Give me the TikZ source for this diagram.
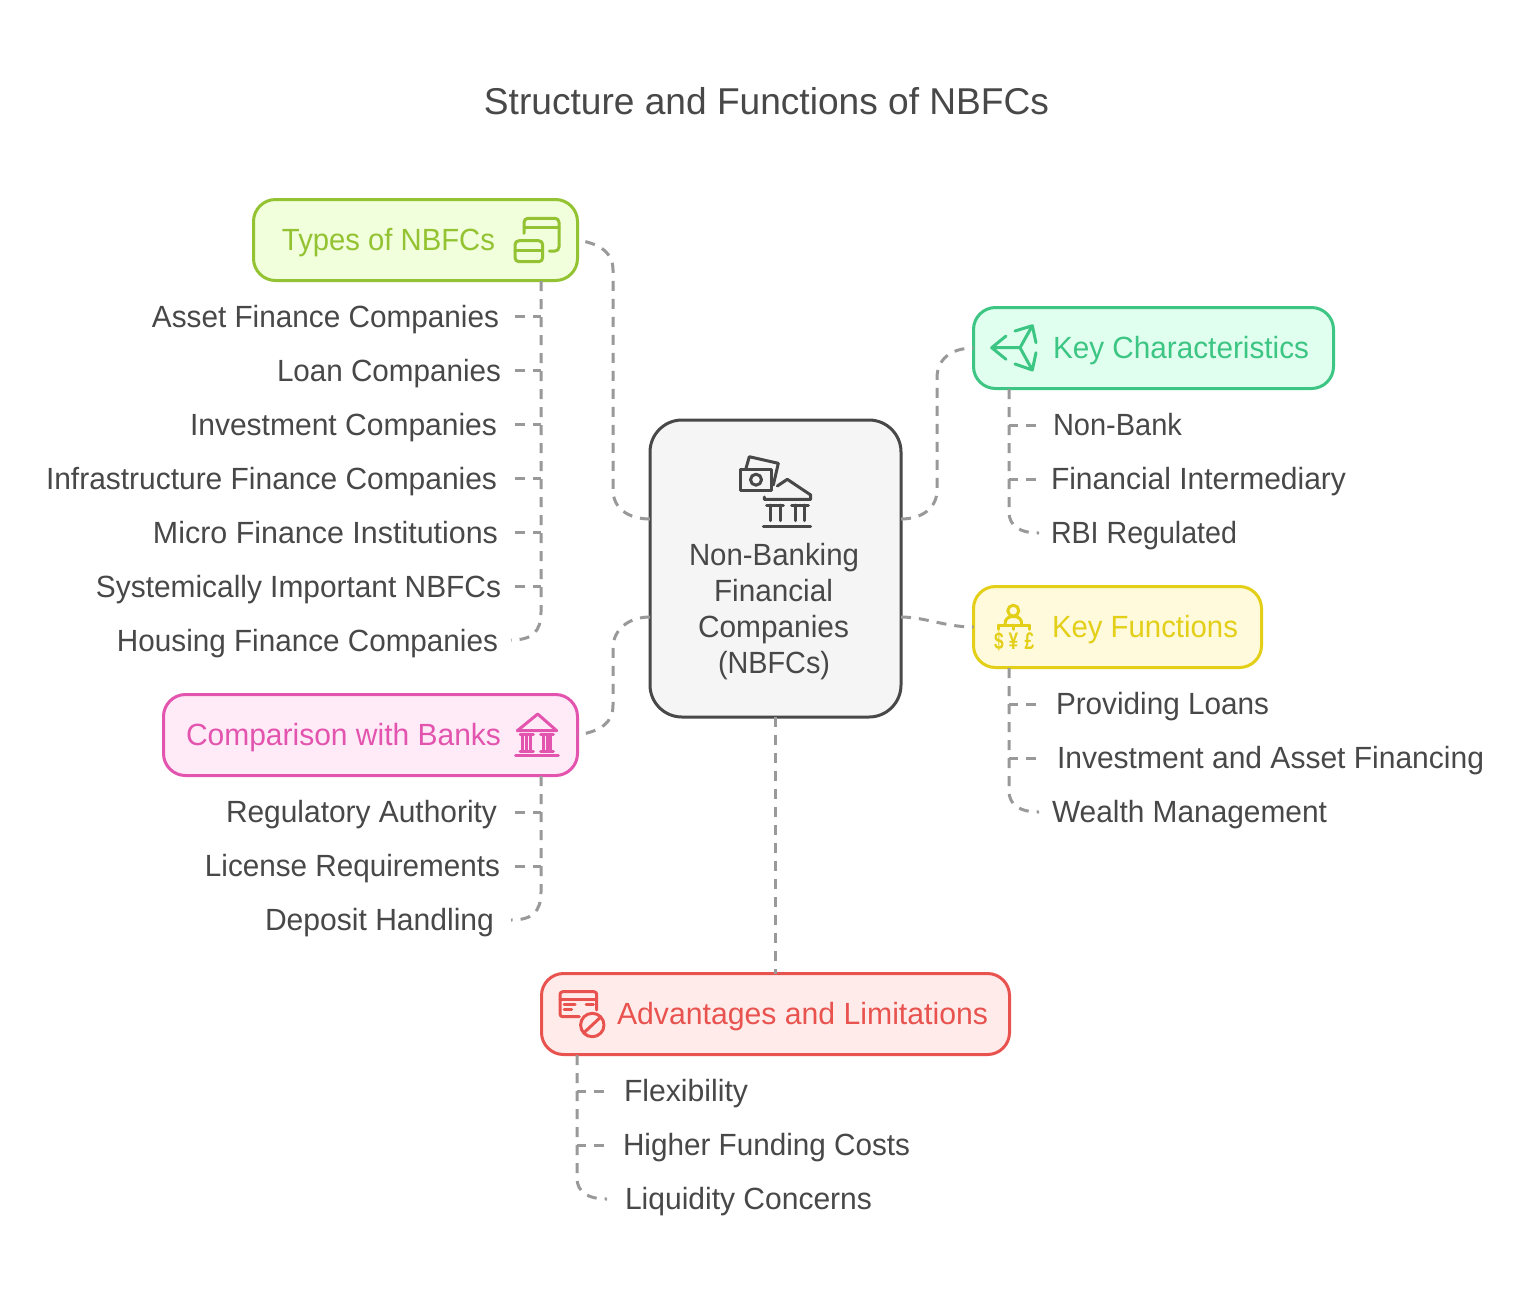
\documentclass[tikz,border=0pt]{standalone}
\usepackage{graphicx}
\usepackage{fontspec}
\setmainfont{Liberation Sans}
\definecolor{ink}{HTML}{484848}
\definecolor{dashc}{HTML}{999999}
\definecolor{grs}{HTML}{93C332}\definecolor{grf}{HTML}{F2FFDC}
\definecolor{mis}{HTML}{3CC583}\definecolor{mif}{HTML}{E0FFEF}
\definecolor{yes}{HTML}{E3CF17}\definecolor{yef}{HTML}{FFFADC}
\definecolor{pis}{HTML}{E254AE}\definecolor{pif}{HTML}{FFEBF7}
\definecolor{res}{HTML}{E8534F}\definecolor{ref}{HTML}{FFECEA}
\tikzset{
  px/.style={line width=#1*0.75pt},
  boxn/.style n args={4}{draw=#3,fill=#4,px=3,rounded corners=16.5pt,inner sep=0pt,outer sep=0pt,minimum width=#1*0.75pt,minimum height=#2*0.75pt},
  conn/.style={draw=dashc,px=3,dash pattern=on 7.5pt off 6pt},
  connb/.style={conn,dash phase=7.5pt},
  icon/.style={px=3,line cap=round,line join=round},
  lbl/.style={inner sep=0pt,outer sep=0pt,anchor=base},
  sym/.style={lbl,anchor=center,text=yes,font=\bfseries\fontsize{18pt}{18pt}\selectfont,xscale=0.72}
}
\newcommand\tline[7][23]{%
  \pgfmathsetlengthmacro{\tlw}{(#5-#4)*0.75pt}%
  \pgfmathsetlengthmacro{\tlf}{#1*1pt}%
  \node[lbl,text=#3] (#2) at ({(#4+#5)/2},#6) {\fontsize{\tlf}{\tlf}\selectfont\resizebox{\tlw}{\height}{#7}};%
}
\begin{document}
\begin{tikzpicture}[x=0.75pt,y=-0.75pt]
\useasboundingbox[fill=white] (0,0) rectangle (1533,1290);
% boxes
\node[boxn={324}{81}{grs}{grf}] (types) at (415.5,240) {};
\node[boxn={360}{81}{mis}{mif}] (chars) at (1153.5,348) {};
\node[boxn={288}{81}{yes}{yef}] (funcs) at (1117.5,627) {};
\node[boxn={414}{81}{pis}{pif}] (comp) at (370.5,735) {};
\node[boxn={468}{81}{res}{ref}] (adv) at (775.5,1014) {};
\node[boxn={251}{297}{ink}{black!4},rounded corners=24pt] (center) at (775.5,568.5) {};
% title
\tline[28]{title}{ink}{484}{1049}{114.2}{Structure and Functions of NBFCs}
% box labels
\tline{ltypes}{grs}{282}{495}{250.8}{Types of NBFCs}
\tline{lchars}{mis}{1053}{1309}{358.5}{Key Characteristics}
\tline{lfuncs}{yes}{1052}{1238}{637.5}{Key Functions}
\tline{lcomp}{pis}{186}{501}{745.5}{Comparison with Banks}
\tline{ladv}{res}{617}{988}{1024.5}{Advantages and Limitations}
% center
\tline{c1}{ink}{689}{859}{565.5}{Non-Banking}
\tline{c2}{ink}{714}{833}{601.5}{Financial}
\tline{c3}{ink}{698}{849}{637.5}{Companies}
\tline{c4}{ink}{718}{830}{673.5}{(NBFCs)}
% types list
\tline{t1}{ink}{152}{499}{327}{Asset Finance Companies}
\tline{t2}{ink}{277}{501}{381}{Loan Companies}
\tline{t3}{ink}{190}{497}{435}{Investment Companies}
\tline{t4}{ink}{46}{497}{489}{Infrastructure Finance Companies}
\tline{t5}{ink}{153}{498}{543}{Micro Finance Institutions}
\tline{t6}{ink}{96}{501}{597}{Systemically Important NBFCs}
\tline{t7}{ink}{117}{498}{651}{Housing Finance Companies}
% chars list
\tline{k1}{ink}{1053}{1182}{435}{Non-Bank}
\tline{k2}{ink}{1051}{1346}{489}{Financial Intermediary}
\tline{k3}{ink}{1051}{1237}{543}{RBI Regulated}
% funcs list
\tline{f1}{ink}{1056}{1269}{714}{Providing Loans}
\tline{f2}{ink}{1057}{1484}{768}{Investment and Asset Financing}
\tline{f3}{ink}{1052}{1327}{822}{Wealth Management}
% comp list
\tline{m1}{ink}{226}{497}{822}{Regulatory Authority}
\tline{m2}{ink}{205}{500}{876}{License Requirements}
\tline{m3}{ink}{265}{494}{930}{Deposit Handling}
% adv list
\tline{a1}{ink}{624}{748}{1101}{Flexibility}
\tline{a2}{ink}{623}{910}{1155}{Higher Funding Costs}
\tline{a3}{ink}{625}{872}{1209}{Liquidity Concerns}
% anchor points on the central box
\coordinate (cLU) at (center.west |- 0,519);
\coordinate (cLD) at (center.west |- 0,617);
\coordinate (cRU) at (center.east |- 0,519);
\coordinate (cRD) at (center.east |- 0,617);
% main connectors
\draw[connb] (types.east) .. controls (602,244) and (613,254) .. (613,270) -- (613,490) .. controls (613,508) and (628,519) .. (cLU);
\draw[conn] (cRU) .. controls (922,519) and (937,508) .. (937,490) -- (937,378) .. controls (937,360) and (950,348) .. (chars.west);
\draw[conn] (cRD) .. controls (925,617) and (945,627) .. (funcs.west);
\draw[conn] (cLD) .. controls (628,617) and (613,630) .. (613,648) -- (613,705) .. controls (613,722) and (602,731) .. (comp.east);
\draw[conn] (center.south) -- (adv.north -| center.south);
% branch coordinates
\coordinate (tT) at (541,281); \coordinate (kT) at (1009,389); \coordinate (fT) at (1009,668);
\coordinate (mT) at (541,776); \coordinate (aT) at (577,1055);
\foreach \n/\y in {1/316,2/370,3/424,4/478,5/532,6/586}{\coordinate (ts\n) at (541,\y); \coordinate (te\n) at (515,\y);}
\foreach \n/\y in {1/812,2/866}{\coordinate (ms\n) at (541,\y); \coordinate (me\n) at (515,\y);}
\foreach \n/\y in {1/425,2/479}{\coordinate (ks\n) at (1009,\y); \coordinate (ke\n) at (1036,\y);}
\foreach \n/\y in {1/704,2/758}{\coordinate (fs\n) at (1009,\y); \coordinate (fe\n) at (1036,\y);}
\foreach \n/\y in {1/1091,2/1145}{\coordinate (as\n) at (577,\y); \coordinate (ae\n) at (604,\y);}
% trunks
\draw[conn] (tT) -- (541,612) .. controls (541,632) and (532,640) .. (511,640);
\draw[conn] (mT) -- (541,892) .. controls (541,912) and (532,920) .. (511,920);
\draw[conn] (kT) -- (1009,512) .. controls (1009,526) and (1020,533) .. (1039,533);
\draw[conn] (fT) -- (1009,791) .. controls (1009,805) and (1020,812) .. (1039,812);
\draw[conn] (aT) -- (577,1178) .. controls (577,1192) and (588,1199) .. (607,1199);
% stubs
\foreach \n in {1,...,6}{\draw[conn] (te\n) -- (ts\n);}
\foreach \n in {1,2}{\draw[conn] (me\n) -- (ms\n); \draw[conn] (ke\n) -- (ks\n); \draw[conn] (fe\n) -- (fs\n); \draw[conn] (ae\n) -- (as\n);}
% center icon
\begin{scope}[icon,draw=ink]
\draw (740.7,469) rectangle (771.7,490.7);
\draw (756,479.7) circle[radius=5.5];
\draw (746,468.3) -- (749.3,456.7) -- (778.3,463.3) -- (773.3,485);
\draw (777.3,486) -- (787.3,479.3) -- (810.7,495) -- (810.7,499.3) -- (764.3,499.3) -- (764.3,497);
\draw (766.7,505) -- (783.3,505) (791.7,505) -- (808.3,505);
\draw (770,505) -- (770,520.7) (780,505) -- (780,520.7) (795,505) -- (795,520.7) (804.3,505) -- (804.3,520.7);
\draw (763.3,526) -- (810.7,526);
\end{scope}
% types icon
\begin{scope}[icon,draw=grs]
\draw[rounded corners=3pt] (524,233.3) -- (524,218.3) -- (559,218.3) -- (559,251) -- (549.3,251);
\draw (524,227.3) -- (559,227.3);
\draw[rounded corners=3pt] (515,240.7) rectangle (542.7,261.7);
\draw (515,250.7) -- (542.7,250.7);
\end{scope}
% chars icon
\begin{scope}[icon,draw=mis]
\draw (1020,347.7) -- (991.7,347.7) (1006,336) -- (991.7,347.7) -- (1006,359.3);
\draw (1020,347.7) -- (1032.3,325.7) (1015,331) -- (1032.3,325.7) -- (1036,342.7);
\draw (1020,347.7) -- (1032.3,370) (1015,364) -- (1032.3,370) -- (1036,352.7);
\end{scope}
% funcs icon
\begin{scope}[icon,draw=yes]
\draw (1013.3,610.7) circle[radius=5.5];
\draw (1005,624.3) .. controls (1005,618) and (1009,616.5) .. (1013.3,616.5) .. controls (1018,616.5) and (1021.7,618) .. (1021.7,624.3);
\draw (998.3,625) -- (1029.3,625);
\draw (998.3,625) -- (998.3,629.3) (1013.3,625) -- (1013.3,629.3) (1029.3,625) -- (1029.3,629.3);
\node[sym] (sd) at (999,641) {\$};
\node[sym] (sy) at (1013.3,641) {¥};
\node[sym] (sp) at (1029.3,641) {£};
\end{scope}
% comparison icon
\begin{scope}[icon,draw=pis]
\draw (517.3,730.7) -- (537.7,714) -- (556.7,730.7) -- cycle;
\draw (520,734.5) -- (533.3,734.5) (540.7,734.5) -- (553.3,734.5);
\draw (520,751.7) -- (533.3,751.7) (540.7,751.7) -- (553.3,751.7);
\draw (522.7,734.5) -- (522.7,751.7) (526.7,734.5) -- (526.7,751.7) (530.7,734.5) -- (530.7,751.7);
\draw (543.3,734.5) -- (543.3,751.7) (547.3,734.5) -- (547.3,751.7) (550.7,734.5) -- (550.7,751.7);
\draw (515.7,755.7) -- (558.3,755.7);
\end{scope}
% advantages icon
\begin{scope}[icon,draw=res]
\draw[rounded corners=2pt] (596.7,1010) -- (596.7,991.7) -- (560,991.7) -- (560,1016.7) -- (579.3,1016.7);
\draw (560,999) -- (596.7,999);
\draw (564,1004.3) -- (575,1004.3) (564,1009) -- (571.7,1009) (586,1004.3) -- (593.3,1004.3);
\draw (592.3,1025) circle[radius=11.7];
\draw (585,1031.7) -- (600,1017.7);
\end{scope}
\end{tikzpicture}
\end{document}
